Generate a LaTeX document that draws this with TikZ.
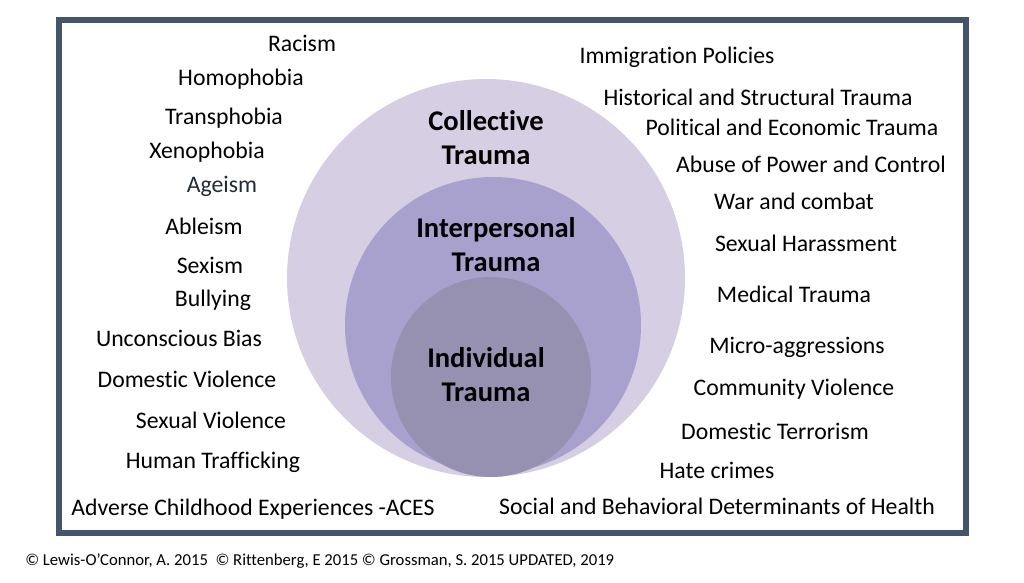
\documentclass[tikz,border=0pt]{standalone}
\usepackage{fontspec}
\setmainfont[Ligatures=NoCommon]{Carlito}
\usepackage{tikz}

\definecolor{framec}{RGB}{68,84,106}
\definecolor{outerc}{RGB}{214,206,226}
\definecolor{midc}{RGB}{168,161,206}
\definecolor{innerc}{RGB}{150,144,177}
\definecolor{navyc}{RGB}{34,42,53}

\begin{document}
\begin{tikzpicture}[x=0.75pt,y=0.75pt,yscale=-1,xscale=1,
  lbl/.style={inner sep=0.75pt,font=\fontsize{17.8}{20}\selectfont},
  ttl/.style={inner sep=0.75pt,align=center,font=\fontsize{21.4}{25.5}\selectfont\bfseries}]
\useasboundingbox (0,0) rectangle (1024,582);

%Shape: Rectangle [id:frame]
\draw [color=framec,line width=3.8pt] (59,20) rectangle (966,533) ;
%Shape: Circle [id:collective]
\fill [color=outerc] (486,278) circle [radius=199] ;
%Shape: Circle [id:interpersonal]
\fill [color=midc] (493,325) circle [radius=148] ;
%Shape: Circle [id:individual]
\fill [color=innerc] (491,377) circle [radius=100] ;

% Text Node
\draw (486,138) node [ttl] (collective) {Collective\\Trauma};
% Text Node
\draw (496,245) node [ttl] (interpersonal) {Interpersonal\\Trauma};
% Text Node
\draw (486,375) node [ttl] (individual) {Individual\\Trauma};

% Text Node
\draw (302,43) node [lbl] (racism) {Racism};
% Text Node
\draw (241,79) node [lbl] (homophobia) {Homophobia};
% Text Node
\draw (224,118) node [lbl] (transphobia) {Transphobia};
% Text Node
\draw (207,152) node [lbl] (xenophobia) {Xenophobia};
% Text Node
\draw (222,186) node [lbl,text=navyc] (ageism) {Ageism};
% Text Node
\draw (204,226) node [lbl] (ableism) {Ableism};
% Text Node
\draw (210,265) node [lbl] (sexism) {Sexism};
% Text Node
\draw (213,300) node [lbl] (bullying) {Bullying};
% Text Node
\draw (179,338) node [lbl] (bias) {Unconscious Bias};
% Text Node
\draw (187,379) node [lbl] (domviolence) {Domestic Violence};
% Text Node
\draw (211,420) node [lbl] (sexviolence) {Sexual Violence};
% Text Node
\draw (213,462) node [lbl] (trafficking) {Human Trafficking};
% Text Node
\draw (253,509) node [lbl] (aces) {Adverse Childhood Experiences -ACES};

% Text Node
\draw (677,57) node [lbl] (immigration) {Immigration Policies};
% Text Node
\draw (758,97) node [lbl] (historical) {Historical and Structural Trauma};
% Text Node
\draw (792,127) node [lbl] (political) {Political and Economic Trauma};
% Text Node
\draw (811,164) node [lbl] (abuse) {Abuse of Power and Control};
% Text Node
\draw (794,201) node [lbl] (war) {War and combat};
% Text Node
\draw (806,243) node [lbl] (harassment) {Sexual Harassment};
% Text Node
\draw (794,294) node [lbl] (medical) {Medical Trauma};
% Text Node
\draw (797,347) node [lbl] (micro) {Micro-aggressions};
% Text Node
\draw (794,389) node [lbl] (community) {Community Violence};
% Text Node
\draw (775,431) node [lbl] (terrorism) {Domestic Terrorism};
% Text Node
\draw (717,470) node [lbl] (hate) {Hate crimes};
% Text Node
\draw (717,506) node [lbl] (social) {Social and Behavioral Determinants of Health};

% Text Node
\draw (24,561) node [anchor=west][inner sep=0.75pt] [font=\fontsize{12.5}{15}\selectfont] (credits) {© Lewis-O’Connor, A. 2015 \ © Rittenberg, E 2015 © Grossman, S. 2015 UPDATED, 2019};
\end{tikzpicture}
\end{document}
